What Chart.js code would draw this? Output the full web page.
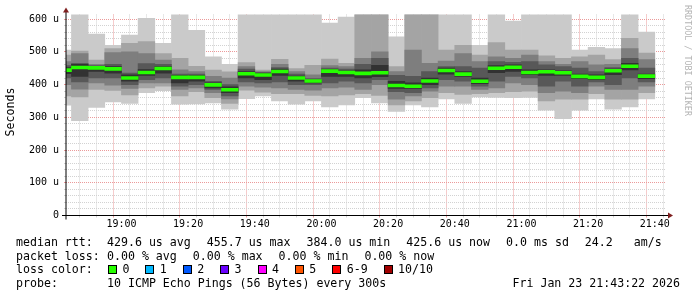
<!DOCTYPE html>
<html>
<head>
<meta charset="utf-8">
<title>SmokePing</title>
<script src="https://cdn.jsdelivr.net/npm/chart.js@4.4.1/dist/chart.umd.min.js"></script>
<style>
  html, body { margin: 0; padding: 0; background: #fff; }
  canvas { display: block; }
</style>
</head>
<body>
<canvas id="smoke" width="697" height="297"></canvas>
<script>
// end time of each 5 minute slot
const slots = ["18:45", "18:50", "18:55", "19:00", "19:05", "19:10", "19:15", "19:20", "19:25",
  "19:30", "19:35", "19:40", "19:45", "19:50", "19:55", "20:00", "20:05", "20:10", "20:15",
  "20:20", "20:25", "20:30", "20:35", "20:40", "20:45", "20:50", "20:55", "21:00", "21:05",
  "21:10", "21:15", "21:20", "21:25", "21:30", "21:35", "21:40"];

// sorted ping rtt per slot, in microseconds (ping1 = fastest, ping10 = slowest)
const ping1 = [337, 290, 330, 347, 342, 375, 381, 340, 341, 344, 325, 357, 365, 350, 340, 350, 332, 338, 360, 344, 318, 338, 332, 356, 342, 362, 361, 360, 361, 322, 296, 322, 356, 325, 332, 356];
const ping2 = [365, 362, 385, 382, 368, 390, 395, 365, 378, 360, 342, 383, 377, 372, 372, 367, 365, 368, 372, 367, 338, 350, 360, 375, 370, 372, 375, 378, 380, 350, 355, 355, 372, 355, 355, 375];
const ping3 = [400, 386, 405, 398, 388, 405, 405, 385, 390, 375, 356, 395, 392, 390, 385, 383, 390, 392, 385, 400, 355, 365, 380, 395, 395, 385, 390, 405, 400, 375, 380, 375, 395, 385, 385, 395];
const ping4 = [420, 408, 420, 420, 400, 415, 420, 395, 400, 385, 365, 408, 405, 408, 400, 400, 405, 410, 405, 415, 378, 375, 390, 415, 410, 395, 410, 425, 420, 395, 410, 395, 408, 400, 420, 408];
const ping5 = [433, 425, 440, 435, 410, 428, 435, 405, 410, 390, 375, 420, 415, 428, 410, 405, 425, 425, 420, 424, 388, 388, 400, 432, 425, 403, 436, 440, 430, 428, 428, 418, 415, 430, 445, 418];
const ping6 = [452, 462, 456, 455, 430, 446, 455, 428, 428, 405, 393, 440, 434, 447, 426, 414, 446, 442, 445, 459, 410, 405, 420, 450, 440, 420, 458, 460, 445, 445, 442, 432, 430, 447, 465, 432];
const ping7 = [458, 465, 458, 462, 435, 464, 462, 432, 432, 410, 400, 447, 437, 452, 432, 418, 450, 447, 462, 480, 428, 425, 440, 455, 455, 450, 470, 468, 470, 460, 455, 450, 440, 452, 480, 450];
const ping8 = [470, 495, 462, 498, 500, 495, 475, 445, 440, 425, 420, 455, 440, 462, 440, 430, 458, 455, 480, 500, 440, 505, 465, 472, 495, 470, 485, 480, 490, 470, 462, 470, 460, 462, 510, 476];
const ping9 = [490, 502, 475, 510, 526, 531, 495, 480, 456, 444, 439, 467, 444, 477, 449, 459, 478, 465, 650, 650, 455, 650, 650, 505, 520, 490, 528, 505, 505, 488, 480, 485, 490, 476, 541, 496];
const ping10 = [505, 640, 554, 520, 551, 602, 526, 640, 566, 485, 462, 640, 640, 640, 640, 640, 588, 606, 700, 700, 546, 700, 700, 650, 650, 520, 650, 594, 650, 650, 650, 505, 514, 510, 650, 560];
const median = [444, 452, 451, 448, 420, 437, 449, 422, 422, 399, 384, 433, 429, 440, 420, 411, 441, 437, 434, 436, 397, 395, 411, 443, 432, 410, 450, 453, 437, 439, 436, 425, 422, 442, 455.7, 425.6];

const yTicks = [0, 100, 200, 300, 400, 500, 600];

// legend texts
const rttStats = ["429.6 us avg", "455.7 us max", "384.0 us min", "425.6 us now", "0.0 ms sd", "24.2   am/s"];
const lossStats = ["0.00 % avg", "0.00 % max", "0.00 % min", "0.00 % now"];
const lossLabels = ["0", "1", "2", "3", "4", "5", "6-9", "10/10"];
const lossColors = ["#26ff00", "#00b8ff", "#0059ff", "#6a00ff", "#ff00ff", "#ff5500", "#ff0000", "#a10000"];
const probeText = "10 ICMP Echo Pings (56 Bytes) every 300s";
const stampText = "Fri Jan 23 21:43:22 2026";

// minutes since 18:00
function toMin(t) {
  const p = t.split(":");
  return (Number(p[0]) - 18) * 60 + Number(p[1]);
}
function fmtMin(m) {
  const h = 18 + Math.floor(m / 60);
  const mm = m % 60;
  return h + ":" + (mm < 10 ? "0" : "") + mm;
}

const startMin = 43 + 22 / 60; // 18:43:22
const endMin = startMin + 180;
const slotMin = slots.map(toMin);
const centers = slotMin.map(m => m - 2.5);

const pings = [ping1, ping2, ping3, ping4, ping5, ping6, ping7, ping8, ping9, ping10];
const shades = ["#cacaca", "#a4a4a4", "#7e7e7e", "#585858", "#323232"];

const datasets = [];
for (let k = 0; k < 5; k++) {
  const lo = pings[k], hi = pings[9 - k];
  datasets.push({
    data: centers.map((x, i) => ({ x: x, y: [lo[i], hi[i]] })),
    backgroundColor: shades[k],
    order: 10 - k
  });
}
datasets.push({
  data: centers.map((x, i) => ({ x: x, y: [median[i] - 4.5, median[i] + 4.5] })),
  backgroundColor: lossColors[0],
  order: 0
});
datasets.forEach(d => {
  d.grouped = false;
  d.borderWidth = 0;
  d.barPercentage = 1;
  d.categoryPercentage = 1;
});

const minorGrid = "#d2d2d2";
const majorGrid = "#eb9a9a";
const monoFont = "DejaVu Sans Mono";

const extras = {
  id: "extras",
  afterDraw(chart) {
    const ctx = chart.ctx;
    const a = chart.chartArea;
    ctx.save();

    // axes
    ctx.strokeStyle = "#000";
    ctx.lineWidth = 1;
    ctx.beginPath();
    ctx.moveTo(a.left - 4, a.bottom);
    ctx.lineTo(a.right + 4, a.bottom);
    ctx.moveTo(a.left, a.bottom + 4);
    ctx.lineTo(a.left, a.top - 4);
    ctx.stroke();

    // arrows
    ctx.fillStyle = "#7f1f1f";
    ctx.beginPath();
    ctx.moveTo(a.right + 2, a.bottom - 3);
    ctx.lineTo(a.right + 7, a.bottom);
    ctx.lineTo(a.right + 2, a.bottom + 3);
    ctx.closePath();
    ctx.fill();
    ctx.beginPath();
    ctx.moveTo(a.left - 3, a.top - 2);
    ctx.lineTo(a.left, a.top - 7);
    ctx.lineTo(a.left + 3, a.top - 2);
    ctx.closePath();
    ctx.fill();

    // axis title
    ctx.fillStyle = "#000";
    ctx.font = "11.6px '" + monoFont + "'";
    ctx.save();
    ctx.translate(11, 112);
    ctx.rotate(-Math.PI / 2);
    ctx.textAlign = "center";
    ctx.textBaseline = "middle";
    ctx.fillText("Seconds", 0, 0);
    ctx.restore();

    // watermark
    ctx.save();
    ctx.fillStyle = "#b4b4b4";
    ctx.font = "8.4px '" + monoFont + "'";
    ctx.translate(685, 5);
    ctx.rotate(Math.PI / 2);
    ctx.textAlign = "left";
    ctx.textBaseline = "alphabetic";
    ctx.fillText("RRDTOOL / TOBI OETIKER", 0, 0);
    ctx.restore();

    // legend
    ctx.font = "11.6px '" + monoFont + "'";
    ctx.textAlign = "left";
    ctx.textBaseline = "alphabetic";
    const rows = [246, 259.7, 273.4, 287.1];
    const gap = 16;

    ctx.fillText("median rtt:", 16, rows[0]);
    let x = 107;
    rttStats.forEach(s => {
      ctx.fillText(s, x, rows[0]);
      x += ctx.measureText(s).width + gap;
    });

    ctx.fillText("packet loss:", 16, rows[1]);
    x = 107;
    lossStats.forEach(s => {
      ctx.fillText(s, x, rows[1]);
      x += ctx.measureText(s).width + gap;
    });

    ctx.fillText("loss color:", 16, rows[2]);
    x = 108;
    lossLabels.forEach((s, i) => {
      const bx = Math.round(x);
      ctx.fillStyle = "#000";
      ctx.fillRect(bx, 265, 9, 9);
      ctx.fillStyle = lossColors[i];
      ctx.fillRect(bx + 1, 266, 7, 7);
      ctx.fillStyle = "#000";
      ctx.fillText(s, x + 14.4, rows[2]);
      x += 14.4 + ctx.measureText(s).width + gap;
    });

    ctx.fillText("probe:", 16, rows[3]);
    ctx.fillText(probeText, 107, rows[3]);
    ctx.textAlign = "right";
    ctx.fillText(stampText, 680, rows[3]);

    ctx.restore();
  }
};

new Chart(document.getElementById("smoke").getContext("2d"), {
  type: "bar",
  data: { datasets: datasets },
  options: {
    responsive: false,
    animation: false,
    devicePixelRatio: 1,
    layout: { padding: { left: 0, right: 31, top: 14.5, bottom: 61.5 } },
    plugins: {
      legend: { display: false },
      tooltip: { enabled: false }
    },
    scales: {
      x: {
        type: "linear",
        min: startMin,
        max: endMin,
        offset: false,
        z: 1,
        afterBuildTicks: scale => { scale.ticks = slotMin.map(v => ({ value: v })); },
        afterFit: scale => { scale.height = 20; },
        grid: {
          color: c => (c.tick && c.tick.value % 20 === 0) ? majorGrid : minorGrid,
          tickColor: c => (c.tick && c.tick.value % 20 === 0) ? majorGrid : minorGrid,
          lineWidth: 1,
          tickLength: 2
        },
        border: { display: false, dash: [1, 1] },
        ticks: {
          autoSkip: false,
          maxRotation: 0,
          padding: 1,
          color: "#000",
          font: { family: monoFont, size: 10 },
          callback: v => (v % 20 === 0 ? fmtMin(v) : "")
        }
      },
      y: {
        type: "linear",
        min: 0,
        max: 614,
        z: 1,
        afterBuildTicks: scale => {
          const t = [];
          for (let v = 0; v <= yTicks[yTicks.length - 1]; v += 20) t.push({ value: v });
          scale.ticks = t;
        },
        afterFit: scale => { scale.width = 66; },
        grid: {
          color: c => (c.tick && c.tick.value % 100 === 0) ? majorGrid : minorGrid,
          tickColor: c => (c.tick && c.tick.value % 100 === 0) ? majorGrid : minorGrid,
          lineWidth: 1,
          tickLength: 2
        },
        border: { display: false, dash: [1, 1] },
        ticks: {
          autoSkip: false,
          padding: 5,
          color: "#000",
          font: { family: monoFont, size: 10 },
          callback: v => (yTicks.includes(v) ? (v === 0 ? "0" : v + " u") : "")
        }
      }
    }
  },
  plugins: [extras]
});
</script>
</body>
</html>
